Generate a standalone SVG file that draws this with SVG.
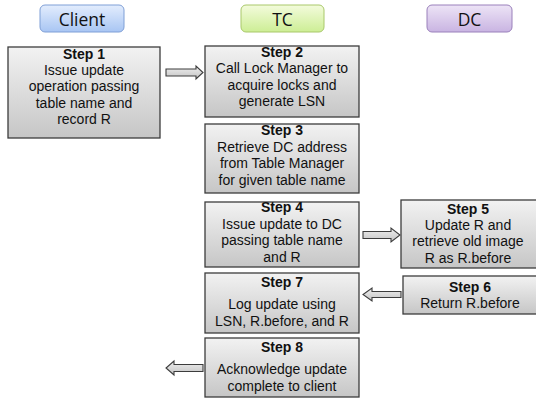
<svg xmlns="http://www.w3.org/2000/svg" width="536" height="401" viewBox="0 0 536 401">
<defs>
<linearGradient id="gBox" x1="0" y1="0" x2="0" y2="1">
<stop offset="0" stop-color="#f2f2f2"/><stop offset="1" stop-color="#c6c6c6"/>
</linearGradient>
<linearGradient id="gArr" x1="0" y1="0" x2="0" y2="1">
<stop offset="0" stop-color="#efefef"/><stop offset="1" stop-color="#c4c4c4"/>
</linearGradient>
<linearGradient id="gBlue" x1="0" y1="0" x2="0" y2="1">
<stop offset="0" stop-color="#e3edfd"/><stop offset="1" stop-color="#a8c5f3"/>
</linearGradient>
<linearGradient id="gGreen" x1="0" y1="0" x2="0" y2="1">
<stop offset="0" stop-color="#f3fbdc"/><stop offset="1" stop-color="#cdee95"/>
</linearGradient>
<linearGradient id="gPurple" x1="0" y1="0" x2="0" y2="1">
<stop offset="0" stop-color="#ede4f6"/><stop offset="1" stop-color="#c9b4e2"/>
</linearGradient>
</defs>
<style>
.box{fill:url(#gBox);stroke:#3c3c3c;stroke-width:1.3}
.arr{fill:url(#gArr);stroke:#3c3c3c;stroke-width:1.1;stroke-linejoin:miter}
.hd{font-family:"Open Sans","Liberation Sans",sans-serif;font-size:17.5px;fill:#111;text-anchor:middle}
.t{font-family:"Liberation Sans",Arial,sans-serif;font-size:14px;fill:#111;text-anchor:middle}
.b{font-weight:bold}
</style>
<g id="hdr-client"><rect x="40" y="5" width="84" height="27" rx="5" fill="url(#gBlue)" stroke="#7f9fd6" stroke-width="1"/><text class="hd" x="82" y="26">Client</text></g>
<g id="hdr-tc"><rect x="241" y="5" width="83" height="27" rx="5" fill="url(#gGreen)" stroke="#a9c86a" stroke-width="1"/><text class="hd" x="282.5" y="26">TC</text></g>
<g id="hdr-dc"><rect x="427" y="5" width="85" height="27" rx="5" fill="url(#gPurple)" stroke="#9a80bb" stroke-width="1"/><text class="hd" x="469.5" y="26">DC</text></g>

<g id="step1"><rect class="box" x="8" y="47" width="152" height="91"/>
<text class="t" x="84" y="59"><tspan class="b">Step 1</tspan><tspan x="84" dy="16">Issue update</tspan><tspan x="84" dy="16.3">operation passing</tspan><tspan x="84" dy="16.3">table name and</tspan><tspan x="84" dy="16.3">record R</tspan></text></g>

<g id="step2"><rect class="box" x="205" y="46" width="154" height="71"/>
<text class="t" x="282" y="57"><tspan class="b">Step 2</tspan><tspan x="282" dy="16">Call Lock Manager to</tspan><tspan x="282" dy="16.5">acquire locks and</tspan><tspan x="282" dy="16.5">generate LSN</tspan></text></g>

<g id="step3"><rect class="box" x="205" y="124" width="154" height="69"/>
<text class="t" x="282" y="135"><tspan class="b">Step 3</tspan><tspan x="282" dy="16.5">Retrieve DC address</tspan><tspan x="282" dy="16.5">from Table Manager</tspan><tspan x="282" dy="16.5">for given table name</tspan></text></g>

<g id="step4"><rect class="box" x="205" y="202" width="154" height="65"/>
<text class="t" x="282" y="212"><tspan class="b">Step 4</tspan><tspan x="282" dy="16.5">Issue update to DC</tspan><tspan x="282" dy="16.5">passing table name</tspan><tspan x="282" dy="16.5">and R</tspan></text></g>

<g id="step5"><rect class="box" x="401" y="200" width="137" height="68"/>
<text class="t" x="468" y="213.5"><tspan class="b">Step 5</tspan><tspan x="468" dy="16">Update R and</tspan><tspan x="468" dy="16.5">retrieve old image</tspan><tspan x="468" dy="16.5">R as R.before</tspan></text></g>

<g id="step6"><rect class="box" x="403" y="276" width="135" height="38"/>
<text class="t" x="470" y="291.5"><tspan class="b">Step 6</tspan><tspan x="470" dy="16">Return R.before</tspan></text></g>

<g id="step7"><rect class="box" x="205" y="273" width="154" height="60"/>
<text class="t" x="282" y="287"><tspan class="b">Step 7</tspan><tspan x="282" dy="22">Log update using</tspan><tspan x="282" dy="16.5">LSN, R.before, and R</tspan></text></g>

<g id="step8"><rect class="box" x="205" y="338" width="154" height="59"/>
<text class="t" x="282" y="352"><tspan class="b">Step 8</tspan><tspan x="282" dy="22">Acknowledge update</tspan><tspan x="282" dy="16.5">complete to client</tspan></text></g>

<g id="connectors">
<path class="arr" d="M166,69 H196 V66 L203,72.5 L196,79 V76 H166 Z"/>
<path class="arr" d="M363,231.5 H391 V228 L400,235 L391,242 V238.5 H363 Z"/>
<path class="arr" d="M401,291.5 H372 V288 L363,294.5 L372,301 V297.5 H401 Z"/>
<path class="arr" d="M203,364.5 H174 V361 L166,368 L174,375 V371.5 H203 Z"/>
</g>
</svg>
